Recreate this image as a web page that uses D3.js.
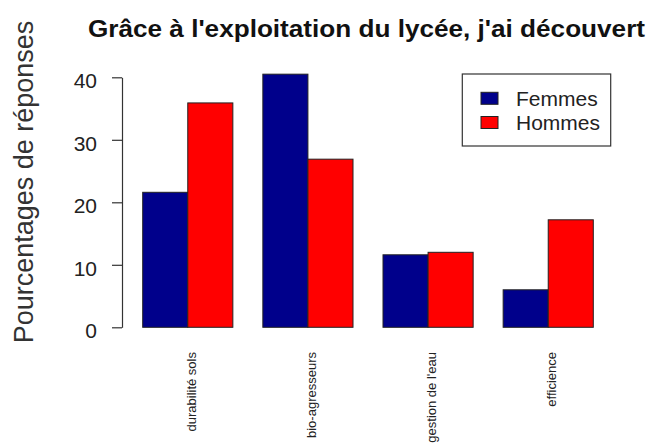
<!DOCTYPE html>
<html>
<head>
<meta charset="utf-8">
<script src="https://cdn.jsdelivr.net/npm/d3@7"></script>
<style>
  html, body { margin: 0; padding: 0; background: #fff; }
  svg { display: block; font-family: "Liberation Sans", Arial, sans-serif; }
</style>
</head>
<body>
<svg id="chart" width="651" height="444"></svg>
<script>
// Survey results: share of answers by theme and gender
const categories = ["durabilité sols", "bio-agresseurs", "gestion de l'eau", "efficience"];
const femmes = [21.6, 40.5, 11.6, 6.0];
const hommes = [35.9, 26.9, 12.0, 17.2];
const seriesNames = ["Femmes", "Hommes"];
const seriesColors = ["#00008B", "#FF0000"];
const yTicks = [0, 10, 20, 30, 40];

const svg = d3.select("#chart");
const plotLeft = 142.7, plotRight = 593.3, groupGap = 30;
const yBase = 327.3, yTop = 77.3;

const y = d3.scaleLinear().domain([0, 40]).range([yBase, yTop]);

// each group = two adjacent bars followed by a gap
const outer = d3.scaleBand().domain(categories).range([plotLeft, plotRight + groupGap]);
const groupWidth = outer.bandwidth() - groupGap;
const x1 = d3.scaleBand().domain(seriesNames).range([0, groupWidth]);

const rows = categories.map((c, i) => ({ cat: c, vals: [femmes[i], hommes[i]] }));

const g = svg.append("g");
rows.forEach(r => {
  r.vals.forEach((v, j) => {
    g.append("rect")
      .attr("x", outer(r.cat) + x1(seriesNames[j]))
      .attr("y", y(v))
      .attr("width", x1.bandwidth())
      .attr("height", y(0) - y(v))
      .attr("fill", seriesColors[j])
      .attr("stroke", "#222")
      .attr("stroke-width", 1);
  });
});

// y axis
const axis = svg.append("g")
  .attr("transform", "translate(122,0)")
  .call(d3.axisLeft(y).tickValues(yTicks).tickSize(10).tickPadding(15).tickSizeOuter(0));
axis.select(".domain").attr("stroke", "#333").attr("stroke-width", 1.2);
axis.selectAll(".tick line").attr("stroke", "#333").attr("stroke-width", 1.2);
axis.selectAll(".tick text")
  .attr("fill", "#222")
  .style("font-size", "21px")
  .style("font-family", "\"Liberation Sans\", Arial, sans-serif")
  .attr("dy", "0.5em");

// category labels, vertical
rows.forEach(r => {
  const cx = outer(r.cat) + groupWidth / 2 + 3.5;
  svg.append("text")
    .attr("transform", `translate(${cx},352) rotate(-90)`)
    .attr("text-anchor", "end")
    .attr("dy", "0.35em")
    .attr("fill", "#222")
    .style("font-size", "13px")
    .text(r.cat);
});

// y axis title
svg.append("text")
  .attr("transform", "translate(33,182) rotate(-90)")
  .attr("text-anchor", "middle")
  .attr("fill", "#333")
  .style("font-size", "27px")
  .text("Pourcentages de réponses");

// chart title
svg.append("text")
  .attr("x", 366.5)
  .attr("y", 37)
  .attr("text-anchor", "middle")
  .attr("fill", "#111")
  .attr("textLength", 557)
  .attr("lengthAdjust", "spacingAndGlyphs")
  .style("font-size", "23.5px")
  .style("font-weight", "bold")
  .text("Grâce à l'exploitation du lycée, j'ai découvert");

// legend
const lg = svg.append("g");
lg.append("rect")
  .attr("x", 462.3).attr("y", 74)
  .attr("width", 148.4).attr("height", 72)
  .attr("fill", "#fff").attr("stroke", "#333").attr("stroke-width", 1.2);
seriesNames.forEach((n, i) => {
  const yy = 98.3 + i * 24.2;
  lg.append("rect")
    .attr("x", 481).attr("y", yy - 6)
    .attr("width", 17).attr("height", 12)
    .attr("fill", seriesColors[i]).attr("stroke", "#222").attr("stroke-width", 1);
  lg.append("text")
    .attr("x", 516).attr("y", yy)
    .attr("dy", "0.35em")
    .attr("fill", "#222")
    .style("font-size", "21px")
    .text(n);
});
</script>
</body>
</html>
